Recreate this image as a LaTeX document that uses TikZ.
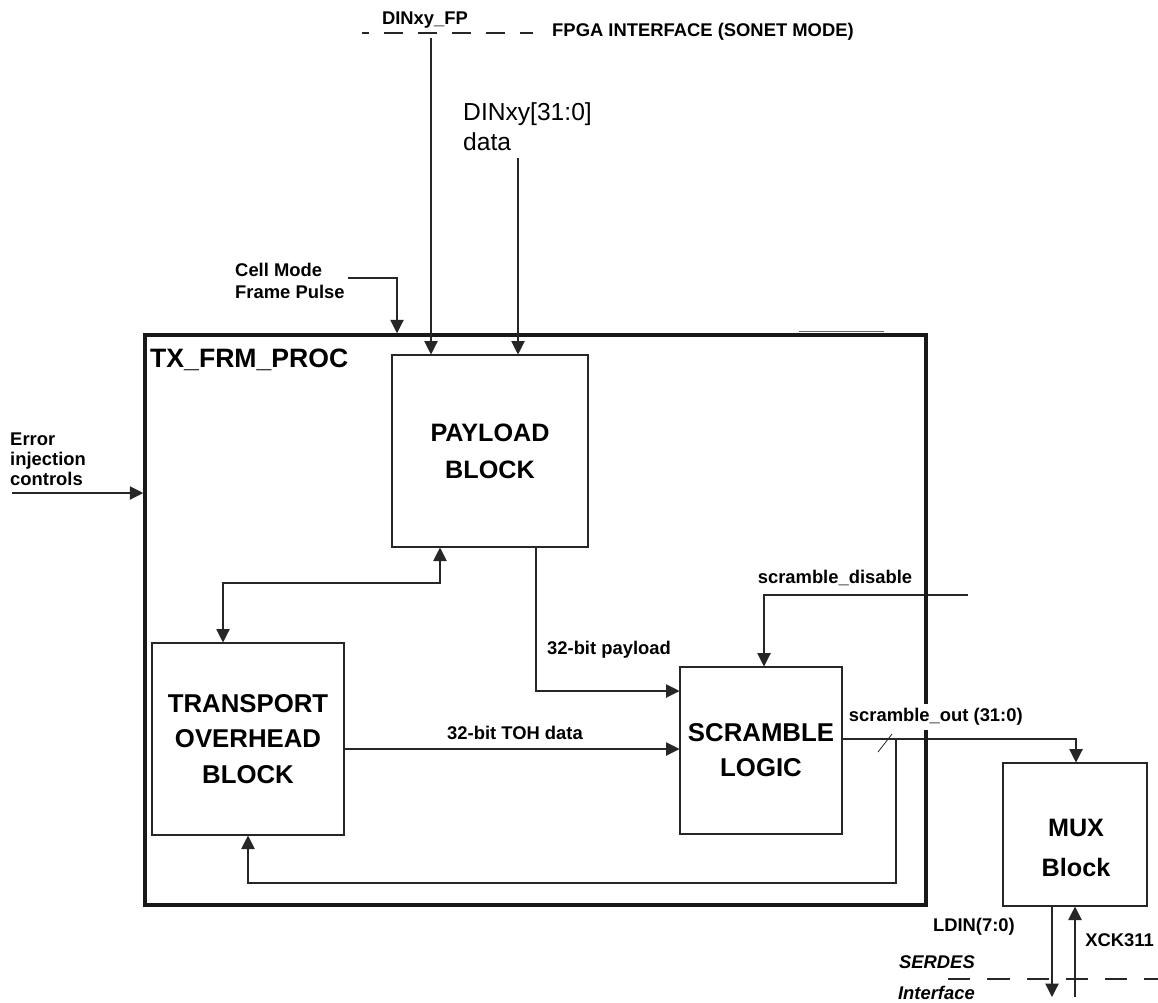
\documentclass[tikz,border=0pt]{standalone}
\usepackage{fontspec}
\setmainfont{Liberation Sans}
\usetikzlibrary{arrows.meta}
\begin{document}
\begin{tikzpicture}[x=0.03cm,y=-0.03cm,
  conn/.style={line width=0.9pt, draw=black!85},
  arr/.style={conn, -{Triangle[length=11.5pt,width=11.5pt]}},
  arrtwo/.style={conn, {Triangle[length=11.5pt,width=11.5pt]}-{Triangle[length=11.5pt,width=11.5pt]}},
  blk/.style={draw=black!85, line width=0.9pt, align=center, inner sep=0pt,
    font=\fontsize{22}{30}\selectfont\bfseries},
  lbl/.style={inner sep=0pt, font=\fontsize{15.7}{18}\selectfont\bfseries},
  frame/.style={draw=black!90, line width=3pt, inner sep=0pt}
]
\useasboundingbox (0,0) rectangle (1158,1002);
% connectors that pass under the outer frame
\coordinate (sdR) at (968,595);
\coordinate (sdx) at (764,595);
\coordinate (fb1) at (896,739);
\coordinate (fb2) at (896,883);
\coordinate (fb3) at (248,883);
\coordinate (so) at (1076,739);

% blocks
\node[blk, minimum width=5.88cm, minimum height=5.76cm,
  font=\fontsize{21.5}{31.6}\selectfont\bfseries] (pay) at (490,451) {PAYLOAD\\BLOCK};
\node[blk, minimum width=5.76cm, minimum height=5.76cm] (toh) at (248,739) {TRANSPORT\\OVERHEAD\\BLOCK};
\node[blk, minimum width=4.86cm, minimum height=5.01cm] (scr) at (761,750.5) {SCRAMBLE\\LOGIC};
\node[blk, minimum width=4.32cm, minimum height=4.29cm] (mux) at (1075,834.5) {};
\node[align=center, inner sep=0pt, font=\fontsize{21.5}{34}\selectfont\bfseries] (muxt) at (1076,848) {MUX\\Block};

\draw[arr] (sdR) -- (sdx) -- (sdx |- scr.north);
\draw[arr] (fb1) -- (fb2) -- (fb3) -- (fb3 |- toh.south);
\draw[arr] (scr.east |- so) -- (so) -- (so |- mux.north);
\draw[conn, line width=0.7pt] (878,752) -- (892,734);

% outer frame
\node[frame, minimum width=23.43cm, minimum height=17.1cm] (frm) at (535.5,620) {};
\draw[black!60, line width=0.7pt] (799,331) -- (884,331);
\node[anchor=west, inner sep=0pt, font=\fontsize{22.7}{26}\selectfont\bfseries] (txl) at (150,360) {TX\_FRM\_PROC};

% top inputs
\coordinate (fpTop) at (431,38);
\coordinate (dinTop) at (518,158);
\draw[arr] (fpTop) -- (fpTop |- pay.north);
\draw[arr] (dinTop) -- (dinTop |- pay.north);
\node[lbl] (dinfp) at (425,20) {DINxy\_FP};
\draw[black!85, line width=0.9pt, dash pattern=on 16pt off 13pt, dash phase=10pt] (362,33) -- (533,33);
\node[lbl, anchor=west] (fpga) at (552,32) {FPGA INTERFACE (SONET MODE)};
\node[anchor=west, align=left, inner sep=0pt, font=\fontsize{21}{25.6}\selectfont] (dind) at (463,127) {DINxy[31:0]\\data};

% cell mode
\node[lbl, anchor=west, align=left, font=\fontsize{15.7}{18.8}\selectfont\bfseries] (cell) at (235,281) {Cell Mode\\Frame Pulse};
\coordinate (cellL) at (348,278);
\coordinate (cellx) at (397,0);
\draw[arr] (cellL) -| (cellx |- frm.north);

% error injection
\node[lbl, anchor=west, align=left, font=\fontsize{15.7}{17}\selectfont\bfseries] (err) at (10,459) {Error\\injection\\controls};
\coordinate (errL) at (12,493);
\draw[arr] (errL) -- (errL -| frm.west);

% internal connections
\coordinate (pbx) at (440,583);
\coordinate (tbx) at (223,583);
\draw[arrtwo] (pbx |- pay.south) -- (pbx) -- (tbx) -- (tbx |- toh.north);
\coordinate (pl) at (536,691);
\draw[arr] (pl |- pay.south) -- (pl) -- (pl -| scr.west);
\node[lbl] (plab) at (609,650) {32-bit payload};
\coordinate (td) at (344,749);
\draw[arr] (toh.east |- td) -- (td -| scr.west);
\node[lbl] (tlab) at (515,733) {32-bit TOH data};
\node[lbl] (sdlab) at (835,578) {scramble\_disable};
\node[lbl, anchor=west, fill=white, inner sep=4pt] (solab) at (844,717) {scramble\_out (31:0)};

% MUX outputs
\coordinate (ld) at (1052,997);
\coordinate (xk) at (1075,997);
\draw[arr] (ld |- mux.south) -- (ld);
\draw[arr] (xk) -- (xk |- mux.south);
\node[lbl, anchor=east] (ldlab) at (1015,927) {LDIN(7:0)};
\node[lbl, anchor=west] (xklab) at (1085,940) {XCK311};
\draw[black!85, line width=0.9pt, dash pattern=on 19pt off 14.5pt] (948,979) -- (1158,979);
\node[lbl, anchor=east, font=\fontsize{15.7}{18}\selectfont\bfseries\itshape] (serdes) at (975,962) {SERDES};
\node[lbl, anchor=east, font=\fontsize{15.7}{18}\selectfont\bfseries\itshape] (intf) at (975,993) {Interface};
\end{tikzpicture}
\end{document}
